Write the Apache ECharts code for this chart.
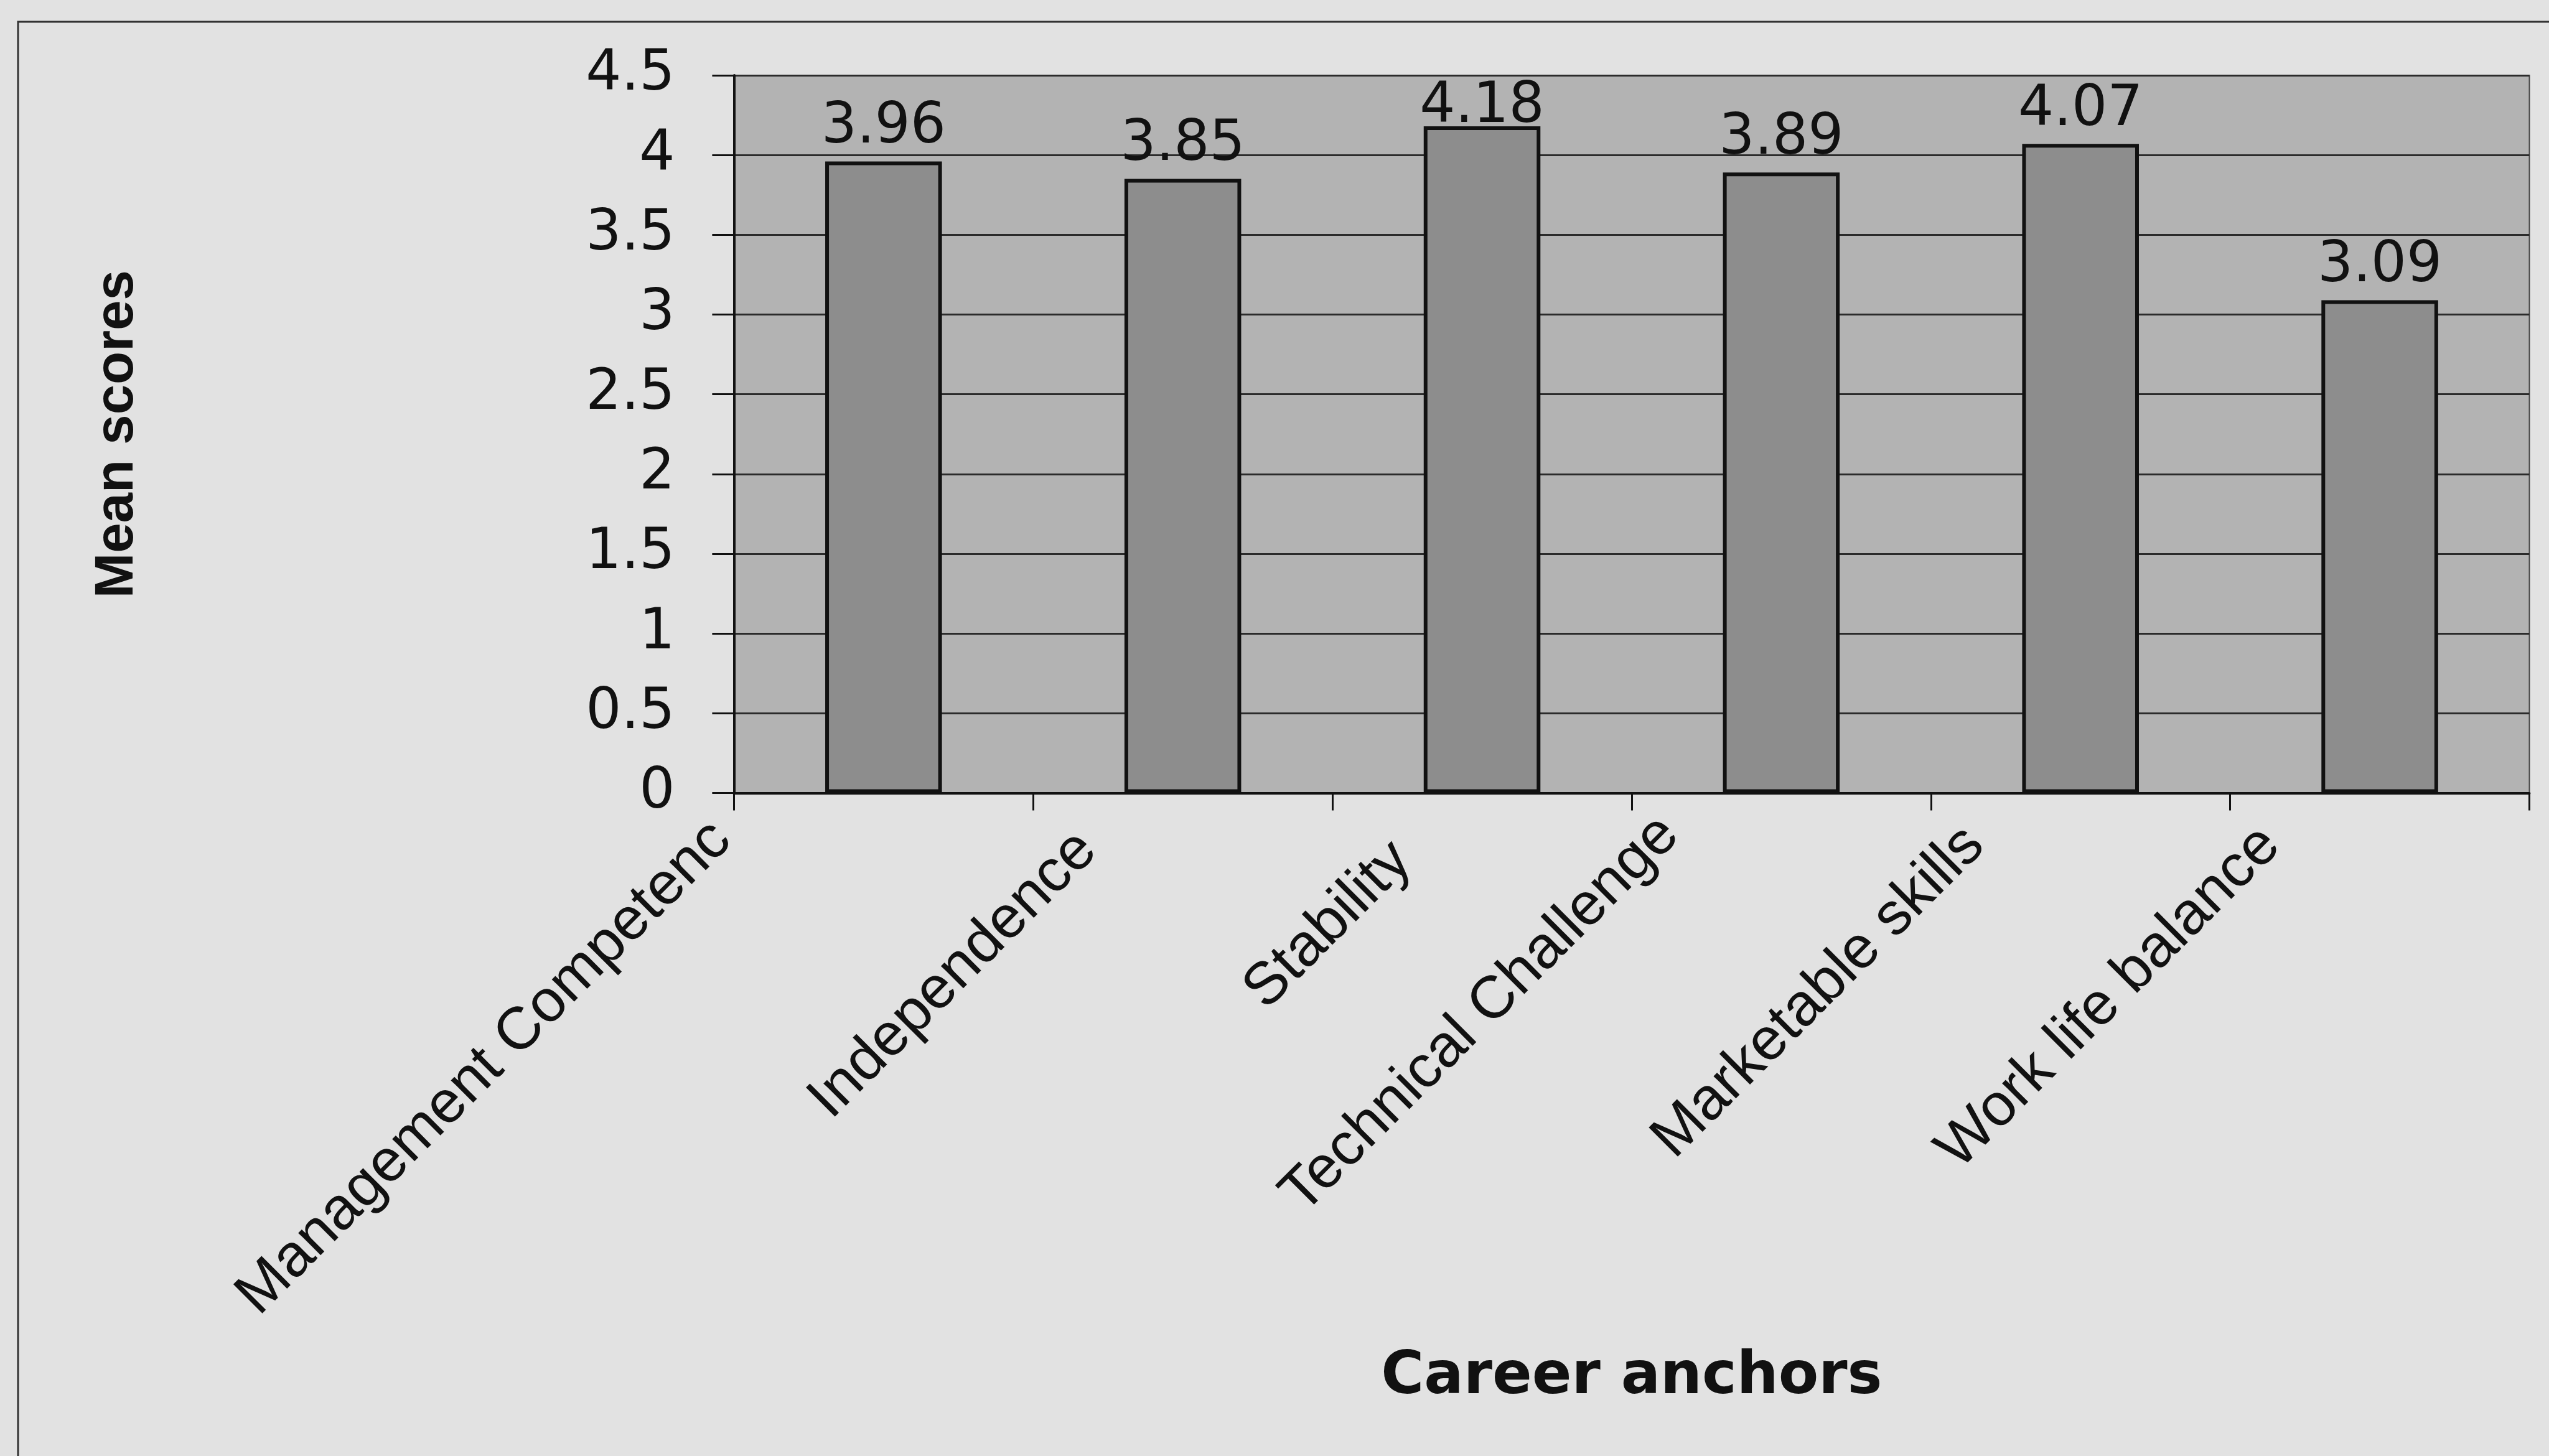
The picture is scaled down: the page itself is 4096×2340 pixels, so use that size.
<!DOCTYPE html>
<html>
<head>
<meta charset="utf-8">
<script src="https://cdn.jsdelivr.net/npm/echarts@6/dist/echarts.min.js"></script>
<style>
  html, body { margin: 0; padding: 0; background: #e2e2e2; }
  #chart { width: 4096px; height: 2340px; }
</style>
</head>
<body>
<div id="chart"></div>
<script>
// career anchors and their mean scores
var categories = ['Management Competence', 'Independence', 'Stability', 'Technical Challenge', 'Marketable skills', 'Work life balance'];
var meanScores = [3.96, 3.85, 4.18, 3.89, 4.07, 3.09];
var yMin = 0;
var yMax = 4.5;
var yStep = 0.5;

// plot area, px
var gridTop = 121;
var gridBottom = 1065.5;
var plotH = 2340 - gridTop - gridBottom;

// excel placed each slanted label a bit differently: [top, right, bottom, left]
// (bottom padding only moves the text when verticalAlign is 'bottom')
var labelPadding = [
  [0, 203, 117, 0],
  [0, 139, 30, 0],
  [0, 133, 0, 0],
  [0, 140, 66, 0],
  [0, 145, 47, 0],
  [0, 149, 51, 0]
];

// keep value labels inside the plot area like excel does
function labelDistance (v) {
  var barTop = gridTop + plotH - (v - yMin) / (yMax - yMin) * plotH;
  return Math.min(9, barTop - 90 - gridTop - 7);
}

var chart = echarts.init(document.getElementById('chart'));

var option = {
  backgroundColor: '#e2e2e2',
  animation: false,
  graphic: [{
    type: 'rect',
    silent: true,
    shape: { x: 29, y: 35, width: 4200, height: 2400 },
    style: { fill: null, stroke: '#333', lineWidth: 3 }
  }],
  grid: {
    left: 1179.4,
    right: 31.5,
    top: gridTop,
    bottom: gridBottom,
    show: true,
    backgroundColor: '#b3b3b3',
    borderColor: '#444',
    borderWidth: 2,
    outerBoundsMode: 'none'
  },
  xAxis: {
    type: 'category',
    data: categories.map(function (name, i) {
      return { value: name, textStyle: { verticalAlign: 'bottom', padding: labelPadding[i] } };
    }),
    axisLine: { lineStyle: { color: '#111', width: 4 } },
    axisTick: { show: true, length: 28, lineStyle: { color: '#111', width: 3 } },
    axisLabel: {
      interval: 0,
      rotate: 45,
      margin: 34,
      fontFamily: 'Liberation Sans',
      fontSize: 96,
      color: '#111',
      width: 1100,
      overflow: 'truncate',
      ellipsis: ''
    },
    name: 'Career anchors',
    nameLocation: 'middle',
    nameGap: 940,
    nameMoveOverlap: false,
    nameTextStyle: {
      fontFamily: 'DejaVu Sans',
      fontWeight: 'bold',
      fontSize: 94,
      color: '#111',
      verticalAlign: 'middle'
    }
  },
  yAxis: {
    type: 'value',
    min: yMin,
    max: yMax,
    interval: yStep,
    axisLine: { show: true, lineStyle: { color: '#111', width: 4 } },
    axisTick: { show: true, length: 35, lineStyle: { color: '#111', width: 3 } },
    axisLabel: { margin: 95, fontFamily: 'DejaVu Sans', fontSize: 90, color: '#111' },
    splitLine: { show: true, lineStyle: { color: '#2b2b2b', width: 3 } },
    name: 'Mean scores',
    nameLocation: 'middle',
    nameGap: 990,
    nameMoveOverlap: false,
    nameTextStyle: {
      fontFamily: 'Liberation Sans',
      fontWeight: 'bold',
      fontSize: 87,
      color: '#111',
      verticalAlign: 'middle'
    }
  },
  series: [
    {
      type: 'bar',
      barWidth: '39%',
      data: meanScores.map(function (v) {
        return { value: v, label: { distance: labelDistance(v) } };
      }),
      itemStyle: { color: '#8d8d8d', borderColor: '#111', borderWidth: 6 },
      label: {
        show: true,
        position: 'top',
        fontFamily: 'DejaVu Sans',
        fontSize: 90,
        color: '#111'
      }
    }
  ]
};

chart.setOption(option);
</script>
</body>
</html>
